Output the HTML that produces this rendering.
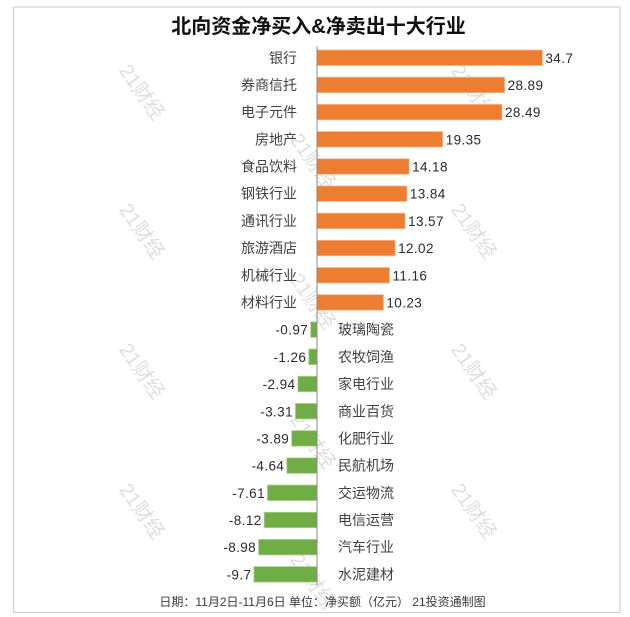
<!DOCTYPE html>
<html>
<head>
<meta charset="utf-8">
<style>
html,body{margin:0;padding:0;background:#fff;}
svg{display:block;}
.cat{font-family:"Liberation Sans","Noto Sans CJK SC",sans-serif;font-size:14px;fill:#404040;}
.val{font-family:"Liberation Sans","Noto Sans CJK SC",sans-serif;font-size:13.5px;fill:#2a2a2a;letter-spacing:0.4px;}
.wm{font-family:"Liberation Sans","Noto Sans CJK SC",sans-serif;font-size:20px;fill:#dedede;}
</style>
</head>
<body>
<svg width="630" height="617" viewBox="0 0 630 617" xmlns="http://www.w3.org/2000/svg">
<rect x="0" y="0" width="630" height="617" fill="#fff"/>
<rect x="13.5" y="7" width="606.5" height="605.5" fill="none" stroke="#d0d0d0" stroke-width="1.2"/>

<!-- watermarks -->
<g class="wm" text-anchor="middle">
<text x="142" y="99" transform="rotate(55 142 92)">21财经</text>
<text x="474" y="99" transform="rotate(55 474 92)">21财经</text>
<text x="142" y="238" transform="rotate(55 142 231)">21财经</text>
<text x="474" y="238" transform="rotate(55 474 231)">21财经</text>
<text x="142" y="378" transform="rotate(55 142 371)">21财经</text>
<text x="474" y="378" transform="rotate(55 474 371)">21财经</text>
<text x="142" y="518" transform="rotate(55 142 511)">21财经</text>
<text x="474" y="518" transform="rotate(55 474 511)">21财经</text>
<text x="313" y="168" transform="rotate(55 313 161)">21财经</text>
<text x="313" y="308" transform="rotate(55 313 301)">21财经</text>
<text x="313" y="448" transform="rotate(55 313 441)">21财经</text>
<text x="313" y="588" transform="rotate(55 313 581)">21财经</text>
</g>

<!-- title -->
<text x="318.5" y="33" text-anchor="middle" font-family="'Liberation Sans','Noto Sans CJK SC',sans-serif" font-size="20" font-weight="bold" fill="#111">北向资金净买入&amp;净卖出十大行业</text>

<!-- positive bars -->
<g fill="#ED7D31" stroke="#F6B98F" stroke-width="0.8">
<rect x="317" y="50.0" width="225.4" height="15.5"/>
<rect x="317" y="77.19" width="187.6" height="15.5"/>
<rect x="317" y="104.38" width="185.0" height="15.5"/>
<rect x="317" y="131.57" width="125.7" height="15.5"/>
<rect x="317" y="158.76" width="92.1" height="15.5"/>
<rect x="317" y="185.95" width="89.9" height="15.5"/>
<rect x="317" y="213.14" width="88.1" height="15.5"/>
<rect x="317" y="240.33" width="78.1" height="15.5"/>
<rect x="317" y="267.52" width="72.5" height="15.5"/>
<rect x="317" y="294.71" width="66.4" height="15.5"/>
</g>
<!-- negative bars -->
<g fill="#70AD47" stroke="#A9D18E" stroke-width="0.8">
<rect x="310.7" y="321.9" width="6.3" height="15.5"/>
<rect x="308.8" y="349.09" width="8.2" height="15.5"/>
<rect x="297.9" y="376.28" width="19.1" height="15.5"/>
<rect x="295.5" y="403.47" width="21.5" height="15.5"/>
<rect x="291.7" y="430.66" width="25.3" height="15.5"/>
<rect x="286.8" y="457.85" width="30.2" height="15.5"/>
<rect x="267.5" y="485.04" width="49.5" height="15.5"/>
<rect x="264.2" y="512.23" width="52.8" height="15.5"/>
<rect x="258.6" y="539.42" width="58.4" height="15.5"/>
<rect x="253.9" y="566.61" width="63.1" height="15.5"/>
</g>

<!-- axis -->
<line x1="317" y1="46.5" x2="317" y2="585" stroke="#8a8a8a" stroke-width="1"/>

<!-- positive category labels -->
<g class="cat" text-anchor="end">
<text x="297" y="62.8">银行</text>
<text x="297" y="89.9">券商信托</text>
<text x="297" y="117.1">电子元件</text>
<text x="297" y="144.3">房地产</text>
<text x="297" y="171.5">食品饮料</text>
<text x="297" y="198.7">钢铁行业</text>
<text x="297" y="225.9">通讯行业</text>
<text x="297" y="253.1">旅游酒店</text>
<text x="297" y="280.3">机械行业</text>
<text x="297" y="307.5">材料行业</text>
</g>
<!-- positive values -->
<g class="val" text-anchor="start">
<text x="545.4" y="62.8">34.7</text>
<text x="507.6" y="89.9">28.89</text>
<text x="505.0" y="117.1">28.49</text>
<text x="445.7" y="144.3">19.35</text>
<text x="412.1" y="171.5">14.18</text>
<text x="409.9" y="198.7">13.84</text>
<text x="408.1" y="225.9">13.57</text>
<text x="398.1" y="253.1">12.02</text>
<text x="392.5" y="280.3">11.16</text>
<text x="386.4" y="307.5">10.23</text>
</g>
<!-- negative category labels -->
<g class="cat" text-anchor="start">
<text x="338" y="334.7">玻璃陶瓷</text>
<text x="338" y="361.9">农牧饲渔</text>
<text x="338" y="389.1">家电行业</text>
<text x="338" y="416.3">商业百货</text>
<text x="338" y="443.5">化肥行业</text>
<text x="338" y="470.6">民航机场</text>
<text x="338" y="497.8">交运物流</text>
<text x="338" y="525.0">电信运营</text>
<text x="338" y="552.2">汽车行业</text>
<text x="338" y="579.4">水泥建材</text>
</g>
<!-- negative values -->
<g class="val" text-anchor="end">
<text x="308.2" y="334.7">-0.97</text>
<text x="306.3" y="361.9">-1.26</text>
<text x="295.4" y="389.1">-2.94</text>
<text x="293.0" y="416.3">-3.31</text>
<text x="289.2" y="443.5">-3.89</text>
<text x="284.3" y="470.6">-4.64</text>
<text x="265.0" y="497.8">-7.61</text>
<text x="261.7" y="525.0">-8.12</text>
<text x="256.1" y="552.2">-8.98</text>
<text x="251.4" y="579.4">-9.7</text>
</g>

<!-- footer -->
<text x="322.5" y="606" text-anchor="middle" font-family="'Liberation Sans','Noto Sans CJK SC',sans-serif" font-size="12" fill="#3a3a3a">日期：11月2日-11月6日 单位：净买额（亿元） 21投资通制图</text>
</svg>
</body>
</html>
